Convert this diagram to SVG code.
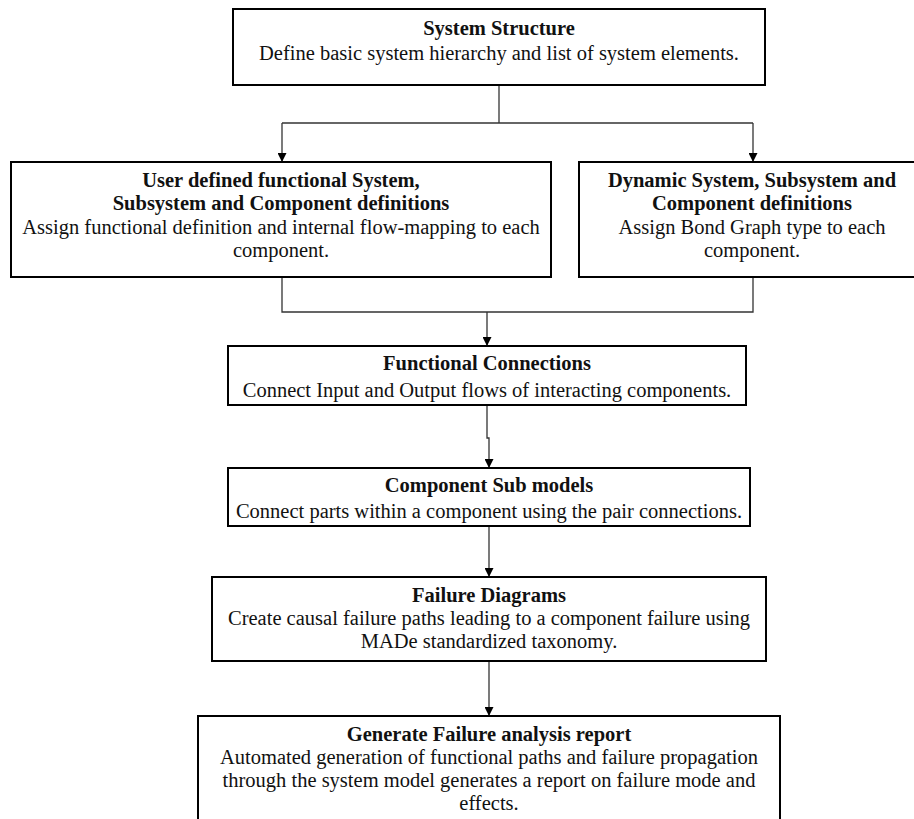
<svg xmlns="http://www.w3.org/2000/svg" width="914" height="819" viewBox="0 0 914 819">
<defs>
<marker id="arr" viewBox="0 0 10 10" refX="10" refY="5" markerWidth="9" markerHeight="9" markerUnits="userSpaceOnUse" orient="auto">
<path d="M0,0 L10,5 L0,10 Z" fill="#000"/>
</marker>
<style>
.box{fill:#fff;stroke:#000;stroke-width:2}
.t{font-family:"Liberation Serif","Times New Roman",serif;font-size:20.5px;fill:#111;text-anchor:middle}
.b{font-weight:bold}
.c{fill:none;stroke:#333;stroke-width:1.3}
</style>
</defs>
<rect width="914" height="819" fill="#fff"/>
<g id="connectors">
<path class="c" d="M499,85 V123"/>
<path class="c" d="M282,123 H753"/>
<path class="c" d="M282,123 V162" marker-end="url(#arr)"/>
<path class="c" d="M753,123 V162" marker-end="url(#arr)"/>
<path class="c" d="M282,277 V312 H753 V277"/>
<path class="c" d="M487,312 V346" marker-end="url(#arr)"/>
<path class="c" d="M487,405 V438 H489 V468" marker-end="url(#arr)"/>
<path class="c" d="M489,526 V577" marker-end="url(#arr)"/>
<path class="c" d="M489,661 V716" marker-end="url(#arr)"/>
</g>
<g id="system-structure">
<rect class="box" x="233" y="9" width="532" height="76"/>
<text class="t b" x="499" y="35">System Structure</text>
<text class="t" x="499" y="60">Define basic system hierarchy and list of system elements.</text>
</g>
<g id="user-defined">
<rect class="box" x="11" y="162" width="540" height="115"/>
<text class="t b" x="281" y="187">User defined functional System,</text>
<text class="t b" x="281" y="210">Subsystem and Component definitions</text>
<text class="t" x="281" y="234">Assign functional definition and internal flow-mapping to each</text>
<text class="t" x="281" y="257">component.</text>
</g>
<g id="dynamic-system">
<rect class="box" x="579" y="162" width="346" height="115"/>
<text class="t b" x="752" y="187">Dynamic System, Subsystem and</text>
<text class="t b" x="752" y="210">Component definitions</text>
<text class="t" x="752" y="234">Assign Bond Graph type to each</text>
<text class="t" x="752" y="257">component.</text>
</g>
<g id="functional-connections">
<rect class="box" x="228" y="346" width="518" height="59"/>
<text class="t b" x="487" y="370">Functional Connections</text>
<text class="t" x="487" y="397">Connect Input and Output flows of interacting components.</text>
</g>
<g id="component-sub-models">
<rect class="box" x="228" y="468" width="522" height="58"/>
<text class="t b" x="489" y="492">Component Sub models</text>
<text class="t" x="489" y="518">Connect parts within a component using the pair connections.</text>
</g>
<g id="failure-diagrams">
<rect class="box" x="212" y="577" width="554" height="84"/>
<text class="t b" x="489" y="602">Failure Diagrams</text>
<text class="t" x="489" y="625">Create causal failure paths leading to a component failure using</text>
<text class="t" x="489" y="648">MADe standardized taxonomy.</text>
</g>
<g id="failure-report">
<rect class="box" x="198" y="716" width="582" height="120"/>
<text class="t b" x="489" y="741">Generate Failure analysis report</text>
<text class="t" x="489" y="764">Automated generation of functional paths and failure propagation</text>
<text class="t" x="489" y="787">through the system model generates a report on failure mode and</text>
<text class="t" x="489" y="810">effects.</text>
</g>
</svg>
